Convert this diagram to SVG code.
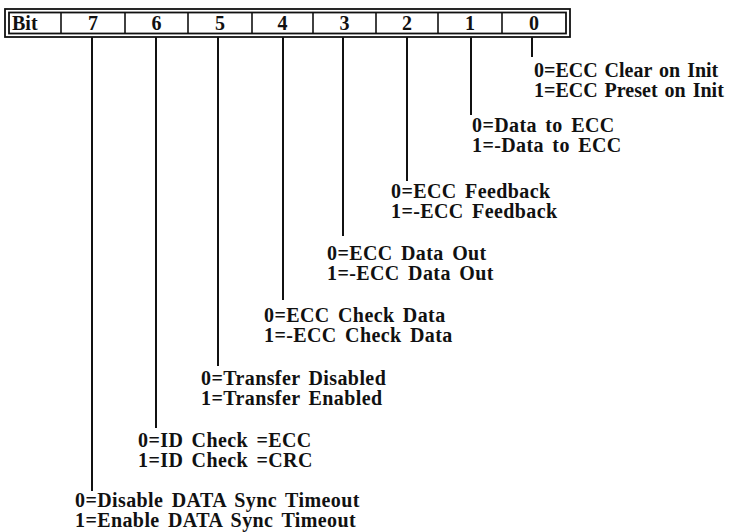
<svg xmlns="http://www.w3.org/2000/svg" width="732" height="532" viewBox="0 0 732 532">
<style>
text { font-family: "Liberation Serif", "Times New Roman", serif; font-weight: bold; font-size: 20px; fill: #111; letter-spacing: 0.4px; word-spacing: 3px; }
.hd { font-size: 20px; letter-spacing: 0; word-spacing: 0; }
.tight { letter-spacing: 0; word-spacing: 2px; }
.mid { text-anchor: middle; }
.box { fill: none; stroke: #111; stroke-width: 1.8; }
.div { stroke: #111; stroke-width: 1.6; }
.conn { stroke: #111; stroke-width: 2; fill: none; }
</style>
<rect width="732" height="532" fill="#fff"/>
<g id="register">
  <rect class="box" x="5" y="9" width="565" height="28"/>
  <rect class="box" x="9" y="12.5" width="557" height="21"/>
  <line class="div" x1="61" y1="12.5" x2="61" y2="33.5"/>
  <line class="div" x1="125" y1="12.5" x2="125" y2="33.5"/>
  <line class="div" x1="188" y1="12.5" x2="188" y2="33.5"/>
  <line class="div" x1="252" y1="12.5" x2="252" y2="33.5"/>
  <line class="div" x1="313" y1="12.5" x2="313" y2="33.5"/>
  <line class="div" x1="376" y1="12.5" x2="376" y2="33.5"/>
  <line class="div" x1="438" y1="12.5" x2="438" y2="33.5"/>
  <line class="div" x1="502" y1="12.5" x2="502" y2="33.5"/>
  <text class="hd" x="12" y="30">Bit</text>
  <text class="hd mid" x="93" y="30">7</text>
  <text class="hd mid" x="156.5" y="30">6</text>
  <text class="hd mid" x="220" y="30">5</text>
  <text class="hd mid" x="282.5" y="30">4</text>
  <text class="hd mid" x="344.5" y="30">3</text>
  <text class="hd mid" x="407" y="30">2</text>
  <text class="hd mid" x="470" y="30">1</text>
  <text class="hd mid" x="534" y="30">0</text>
</g>
<g id="connectors">
  <line class="conn" x1="532" y1="37" x2="532" y2="57"/>
  <line class="conn" x1="471" y1="37" x2="471" y2="115"/>
  <line class="conn" x1="407" y1="37" x2="407" y2="181"/>
  <line class="conn" x1="343" y1="37" x2="343" y2="236"/>
  <line class="conn" x1="283" y1="37" x2="283" y2="300"/>
  <line class="conn" x1="218" y1="37" x2="218" y2="366"/>
  <line class="conn" x1="156" y1="37" x2="156" y2="428"/>
  <line class="conn" x1="92" y1="37" x2="92" y2="491"/>
</g>
<g id="bit0">
  <text class="tight" x="534" y="77">0=ECC Clear on Init</text>
  <text class="tight" x="534" y="97">1=ECC Preset on Init</text>
</g>
<g id="bit1">
  <text x="472" y="132">0=Data to ECC</text>
  <text x="472" y="152">1=-Data to ECC</text>
</g>
<g id="bit2">
  <text x="391" y="198">0=ECC Feedback</text>
  <text x="391" y="218">1=-ECC Feedback</text>
</g>
<g id="bit3">
  <text x="327" y="260">0=ECC Data Out</text>
  <text x="327" y="280">1=-ECC Data Out</text>
</g>
<g id="bit4">
  <text x="264" y="322">0=ECC Check Data</text>
  <text x="264" y="342">1=-ECC Check Data</text>
</g>
<g id="bit5">
  <text x="201" y="385">0=Transfer Disabled</text>
  <text x="201" y="405">1=Transfer Enabled</text>
</g>
<g id="bit6">
  <text x="138" y="447">0=ID Check =ECC</text>
  <text x="138" y="467">1=ID Check =CRC</text>
</g>
<g id="bit7">
  <text x="75" y="507">0=Disable DATA Sync Timeout</text>
  <text x="75" y="527">1=Enable DATA Sync Timeout</text>
</g>
</svg>
